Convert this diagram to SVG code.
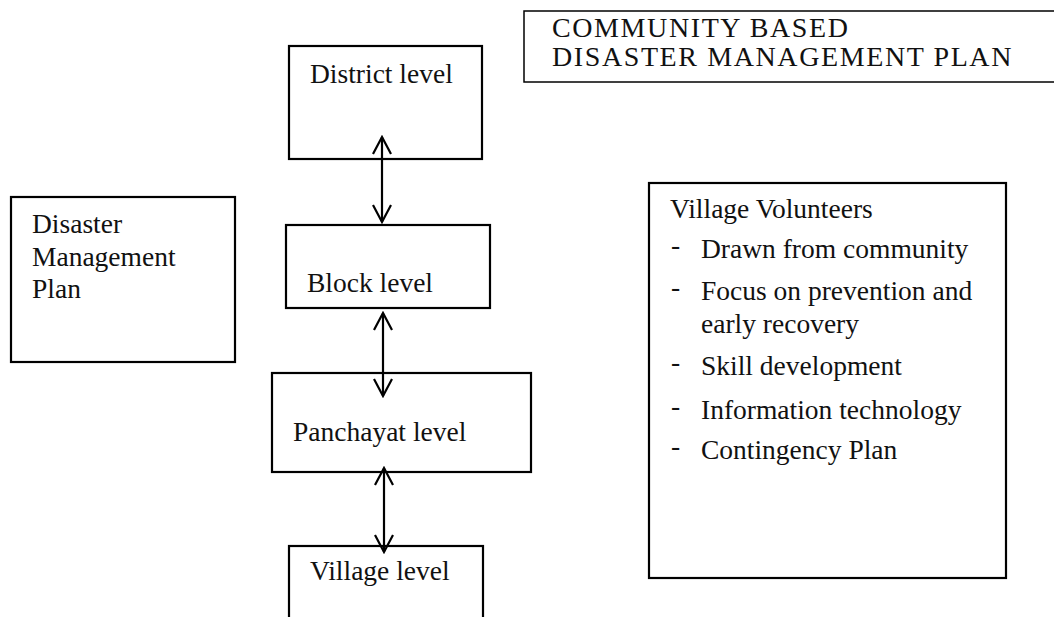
<svg xmlns="http://www.w3.org/2000/svg" width="1054" height="617" viewBox="0 0 1054 617">
  <style>
    .box { fill: #ffffff; stroke: #000000; stroke-width: 2.2; }
    .thin { fill: #ffffff; stroke: #000000; stroke-width: 1.5; }
    .txt { font-family: "Liberation Serif", "DejaVu Serif", serif; font-size: 27.5px; fill: #111111; }
    .title { font-family: "Liberation Serif", "DejaVu Serif", serif; font-size: 28px; letter-spacing: 1.6px; fill: #111111; }
    .link { stroke: #000000; stroke-width: 2.2; fill: none; marker-start: url(#chev); marker-end: url(#chev); }
  </style>
  <defs>
    <marker id="chev" viewBox="0 0 20 20" refX="18" refY="10" markerWidth="20" markerHeight="20" markerUnits="userSpaceOnUse" orient="auto-start-reverse">
      <path d="M1,1 L18,10 L1,19" fill="none" stroke="#000000" stroke-width="2.2"/>
    </marker>
  </defs>
  <rect width="1054" height="617" fill="#ffffff"/>

  <!-- heading -->
  <g id="title">
    <rect class="thin" x="524" y="11" width="560" height="71"/>
    <text class="title" x="552" y="37">COMMUNITY BASED</text>
    <text class="title" x="552" y="66">DISASTER MANAGEMENT PLAN</text>
  </g>

  <g id="dm-plan">
    <rect class="box" x="11" y="197" width="224" height="165"/>
    <text class="txt" x="32" y="233">Disaster</text>
    <text class="txt" x="32" y="266">Management</text>
    <text class="txt" x="32" y="298">Plan</text>
  </g>

  <g id="district">
    <rect class="box" x="289" y="46" width="193" height="113"/>
    <text class="txt" x="310" y="83">District level</text>
  </g>

  <g id="block">
    <rect class="box" x="286" y="225" width="204" height="83"/>
    <text class="txt" x="307" y="292">Block level</text>
  </g>

  <g id="panchayat">
    <rect class="box" x="272" y="373" width="259" height="99"/>
    <text class="txt" x="293" y="441">Panchayat level</text>
  </g>

  <g id="village">
    <rect class="box" x="289" y="546" width="194" height="100"/>
    <text class="txt" x="310" y="580">Village level</text>
  </g>

  <g id="volunteers">
    <rect class="box" x="649" y="183" width="357" height="395"/>
    <text class="txt" x="670" y="218">Village Volunteers</text>
    <text class="txt" x="671" y="254">-</text>
    <text class="txt" x="701" y="258">Drawn from community</text>
    <text class="txt" x="671" y="296">-</text>
    <text class="txt" x="701" y="300">Focus on prevention and</text>
    <text class="txt" x="701" y="333">early recovery</text>
    <text class="txt" x="671" y="371">-</text>
    <text class="txt" x="701" y="375">Skill development</text>
    <text class="txt" x="671" y="415">-</text>
    <text class="txt" x="701" y="419">Information technology</text>
    <text class="txt" x="671" y="455">-</text>
    <text class="txt" x="701" y="459">Contingency Plan</text>
  </g>

  <!-- two-way links between the levels -->
  <g id="connectors">
    <line class="link" x1="382" y1="137" x2="382" y2="222"/>
    <line class="link" x1="383" y1="313" x2="383" y2="396"/>
    <line class="link" x1="384" y1="468" x2="384" y2="552"/>
  </g>
</svg>
